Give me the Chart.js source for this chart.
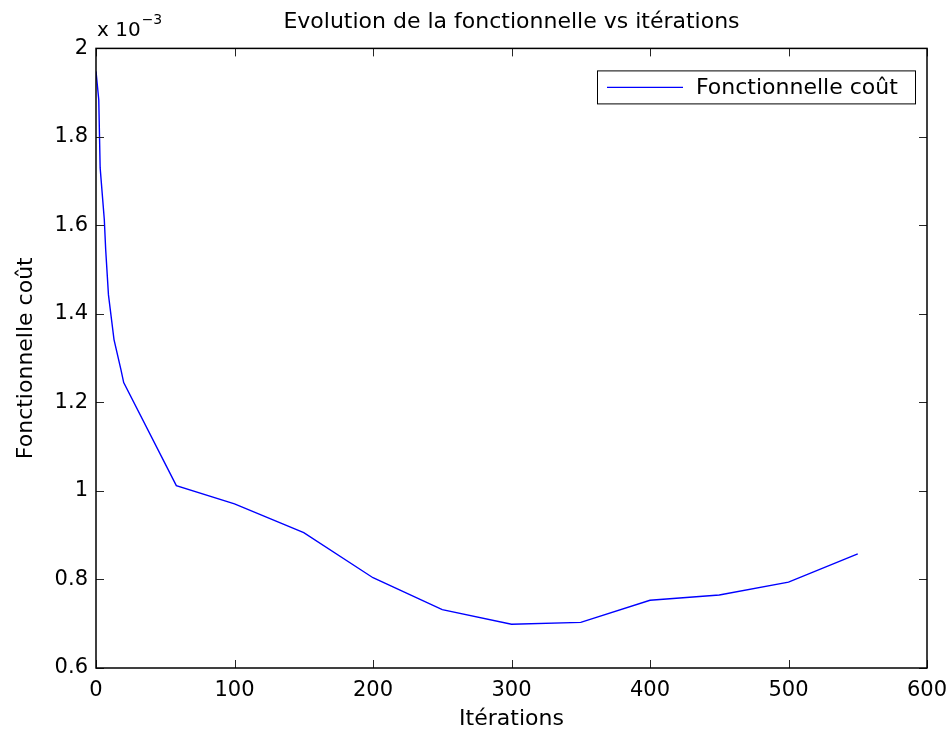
<!DOCTYPE html>
<html>
<head>
<meta charset="utf-8">
<script src="https://cdn.jsdelivr.net/npm/chart.js@4.4.0/dist/chart.umd.min.js"></script>
<style>
  html, body { margin: 0; padding: 0; background: #fff; }
  #wrap { width: 951px; height: 736px; }
</style>
</head>
<body>
<div id="wrap"><canvas id="mycanvas" width="951" height="736"></canvas></div>
<script>
// iterations and cost (cost in units of 1e-3)
var iterations = [0, 2, 3, 6, 7, 9, 13, 18, 20, 58, 100, 150, 200, 250, 300, 350, 400, 450, 500, 550];
var cost = [1.948, 1.884, 1.730, 1.613, 1.545, 1.443, 1.342, 1.274, 1.245, 1.012,
            0.971, 0.906, 0.804, 0.732, 0.699, 0.703, 0.753, 0.765, 0.794, 0.858];

var xTicks = [0, 100, 200, 300, 400, 500, 600];
var yTicks = [0.6, 0.8, 1, 1.2, 1.4, 1.6, 1.8, 2];

var FONT = "'DejaVu Sans', sans-serif";

var points = [];
for (var i in iterations) {
	points.push({x: iterations[i], y: cost[i]});
}

// frame, inside tick marks, exponent and legend box
var matlabAxes = {
	id: 'matlabAxes',
	afterDatasetsDraw: function(chart) {
		var ctx = chart.ctx;
		var a = chart.chartArea;
		var xs = chart.scales.x, ys = chart.scales.y;
		var tl = 8;

		ctx.save();
		ctx.strokeStyle = "#262626";
		ctx.lineWidth = 1;
		ctx.beginPath();
		xTicks.forEach(function(v) {
			var px = Math.round(xs.getPixelForValue(v)) + 0.5;
			ctx.moveTo(px, a.bottom); ctx.lineTo(px, a.bottom - tl);
			ctx.moveTo(px, a.top); ctx.lineTo(px, a.top + tl);
		});
		yTicks.forEach(function(v) {
			var py = Math.round(ys.getPixelForValue(v)) + 0.5;
			ctx.moveTo(a.left, py); ctx.lineTo(a.left + tl, py);
			ctx.moveTo(a.right, py); ctx.lineTo(a.right - tl, py);
		});
		ctx.stroke();

		ctx.strokeStyle = "#000";
		ctx.lineWidth = 1.5;
		ctx.strokeRect(a.left, a.top, a.right - a.left, a.bottom - a.top);

		// x 10^-3 above the y axis
		ctx.fillStyle = "#000";
		ctx.textBaseline = "alphabetic";
		ctx.textAlign = "left";
		ctx.font = "20px " + FONT;
		ctx.fillText("x 10", a.left + 1, a.top - 12);
		var w = ctx.measureText("x 10").width;
		ctx.font = "14px " + FONT;
		ctx.fillText("\u22123", a.left + 2 + w, a.top - 24);

		// legend
		var ds = chart.data.datasets[0];
		var bx = a.right - 330, by = a.top + 22, bw = 318, bh = 33;
		ctx.fillStyle = "#fff";
		ctx.fillRect(bx, by, bw, bh);
		ctx.strokeStyle = "#000";
		ctx.lineWidth = 1;
		ctx.strokeRect(bx + 0.5, by + 0.5, bw, bh);
		ctx.strokeStyle = ds.borderColor;
		ctx.lineWidth = ds.borderWidth;
		ctx.beginPath();
		ctx.moveTo(bx + 10, by + bh / 2 + 0.5);
		ctx.lineTo(bx + 86, by + bh / 2 + 0.5);
		ctx.stroke();
		ctx.fillStyle = "#000";
		ctx.font = "22px " + FONT;
		ctx.textBaseline = "middle";
		ctx.fillText(ds.label, bx + 99, by + bh / 2 + 1);
		ctx.restore();
	}
};

var ctx = document.getElementById("mycanvas");

var LineGraph = new Chart(ctx, {
	type: 'line',
	data: {
		datasets: [{
			label: "Fonctionnelle co\u00fbt",
			data: points,
			fill: false,
			tension: 0,
			borderColor: "#0000ff",
			backgroundColor: "#0000ff",
			borderWidth: 1.4,
			pointRadius: 0
		}]
	},
	options: {
		responsive: false,
		animation: false,
		events: [],
		layout: { padding: { left: 0, right: 24, top: 0, bottom: 0 } },
		plugins: {
			legend: { display: false },
			tooltip: { enabled: false },
			title: {
				display: true,
				fullSize: false,
				text: "Evolution de la fonctionnelle vs it\u00e9rations",
				color: "#000",
				font: { family: FONT, size: 22, weight: 'normal' },
				padding: { top: 9, bottom: 13 }
			}
		},
		scales: {
			x: {
				type: 'linear',
				min: 0,
				max: 600,
				afterBuildTicks: function(scale) {
					scale.ticks = xTicks.map(function(v) { return {value: v}; });
				},
				afterFit: function(scale) {
					scale.height = 68;
					// keep the end labels from shrinking the plot
					scale.paddingLeft = 0;
					scale.paddingRight = 0;
				},
				grid: { display: false, drawTicks: false },
				border: { display: false },
				ticks: { color: "#000", padding: 10, maxRotation: 0, font: { family: FONT, size: 21 } },
				title: {
					display: true,
					text: "It\u00e9rations",
					color: "#000",
					font: { family: FONT, size: 22 },
					padding: { top: 0, bottom: 4 }
				}
			},
			y: {
				type: 'linear',
				min: 0.6,
				max: 2,
				afterBuildTicks: function(scale) {
					scale.ticks = yTicks.map(function(v) { return {value: v}; });
				},
				afterFit: function(scale) {
					scale.width = 96;
					scale.paddingTop = 0;
					scale.paddingBottom = 0;
				},
				grid: { display: false, drawTicks: false },
				border: { display: false },
				ticks: {
					color: "#000",
					padding: 8,
					font: { family: FONT, size: 21 },
					callback: function(v) { return String(Math.round(v * 10) / 10); }
				},
				title: {
					display: true,
					text: "Fonctionnelle co\u00fbt",
					color: "#000",
					font: { family: FONT, size: 22 },
					padding: { top: 13, bottom: 0 }
				}
			}
		}
	},
	plugins: [matlabAxes]
});
</script>
</body>
</html>
